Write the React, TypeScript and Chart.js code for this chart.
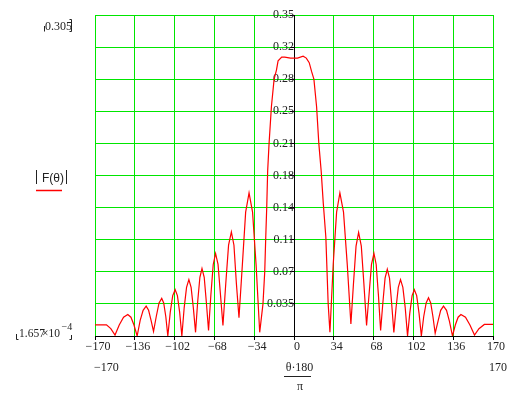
import React, { useEffect, useRef } from "react";
import { Chart, registerables } from "chart.js";

Chart.register(...registerables);

// ---- data ----
const angles = [
  -170, -160.2, -156.5, -152.9,
  -149.3, -145.6, -142, -139.3, -136.7, -134,
  -131.4, -128.9, -126.3, -124.2, -122.1, -120,
  -117.7, -115.3, -113, -111.3, -109.5, -107.8,
  -105.7, -103.6, -101.5, -99.6, -97.7, -95.8,
  -93.8, -91.8, -89.8, -87.9, -86, -84.1,
  -82.3, -80.4, -78.6, -76.7, -74.9, -73,
  -71, -69, -67, -64.9, -62.8, -60.7,
  -58.3, -55.9, -53.5, -51.3, -49.2, -47,
  -44.1, -41.3, -38.4, -35.4, -32.4, -29.3,
  -26.5, -25, -24.2, -23.3, -22.5, -21.3, -19.3, -17, -15, -13.6, -10.5, -7.9, -3, 0,
  3, 7.8, 10.5, 13, 15, 17, 19.3, 21.2, 23.2, 25, 27.2, 29.2, 30.7,
  33.5, 36.4, 39.2, 42.3, 45.5, 48.6,
  50.8, 53, 55.2, 57.5, 59.7, 62,
  64.1, 66.2, 68.3, 70.2, 72.1, 74,
  75.9, 77.8, 79.7, 81.6, 83.4, 85.3,
  87.2, 89.1, 91, 93, 95, 97,
  98.9, 100.9, 102.8, 104.8, 106.8, 108.8,
  110.8, 112.9, 114.9, 116.8, 118.7, 120.6,
  123, 125.3, 127.7, 130.3, 132.8, 135.4,
  137.8, 140.2, 142.6, 146.5, 150.3, 154.2,
  158, 162.6, 170,
];
const magnitude = [
  0.0122, 0.0122, 0.008, 0.001,
  0.012, 0.0205, 0.0235, 0.0205, 0.012, 0.0,
  0.017, 0.028, 0.0326, 0.028, 0.017, 0.005,
  0.021, 0.036, 0.041, 0.036, 0.021, 0.0,
  0.026, 0.044, 0.0505, 0.044, 0.026, 0.0,
  0.031, 0.053, 0.0615, 0.053, 0.031, 0.004,
  0.037, 0.064, 0.0735, 0.064, 0.037, 0.006,
  0.045, 0.078, 0.09, 0.078, 0.045, 0.0115,
  0.057, 0.099, 0.1135, 0.099, 0.057, 0.02,
  0.078, 0.135, 0.156, 0.135, 0.078, 0.004,
  0.035, 0.07, 0.105, 0.14, 0.18, 0.21, 0.25, 0.28, 0.29, 0.3, 0.304, 0.304, 0.303, 0.303,
  0.303, 0.305, 0.303, 0.298, 0.2885, 0.28, 0.25, 0.21, 0.18, 0.145, 0.108, 0.035, 0.004,
  0.078, 0.135, 0.156, 0.135, 0.078, 0.013,
  0.057, 0.098, 0.113, 0.098, 0.057, 0.0115,
  0.045, 0.078, 0.09, 0.078, 0.045, 0.006,
  0.036, 0.063, 0.0727, 0.063, 0.036, 0.004,
  0.031, 0.053, 0.0615, 0.053, 0.031, 0.0,
  0.025, 0.044, 0.0505, 0.044, 0.025, 0.0,
  0.021, 0.036, 0.0418, 0.036, 0.021, 0.003,
  0.016, 0.028, 0.0326, 0.028, 0.016, 0.0,
  0.012, 0.0205, 0.0235, 0.0205, 0.012, 0.001,
  0.008, 0.0126, 0.0126,
];

const xTickValues = [-170, -136, -102, -68, -34, 0, 34, 68, 102, 136, 170];
const xTickLabels = ["−170", "−136", "−102", "−68", "−34", "0", "34", "68", "102", "136", "170"];
const yTickValues = [0, 0.035, 0.07, 0.105, 0.14, 0.175, 0.21, 0.245, 0.28, 0.315, 0.35];
const yTickLabels = ["", "0.035", "0.07", "0.11", "0.14", "0.18", "0.21", "0.25", "0.28", "0.32", "0.35"];

const yUpperLimitLabel = "0.305";
const yLowerLimitParts = ["1.657", "×", "10"];
const yLowerLimitExponent = "−4";
const yAxisTitle = "F(θ)";
const xLowerLimitLabel = "−170";
const xUpperLimitLabel = "170";
const xTitleNumerator = "θ·180";
const xTitleDenominator = "π";

const GREEN = "rgb(0,230,0)";
const TEXT = "#222";
const SERIF = "'Liberation Serif', 'Times New Roman', serif";
const SANS = "'Liberation Sans', Arial, sans-serif";

const xGridColors = xTickValues.map((v) => (v === 0 ? "#000" : GREEN));
const yGridColors = yTickValues.map((v) => (v === 0 ? "#000" : GREEN));

const annotations = {
  id: "mathcadAnnotations",
  afterDraw(chart: any) {
    const ctx = chart.ctx as CanvasRenderingContext2D;
    ctx.save();
    ctx.fillStyle = TEXT;
    ctx.strokeStyle = TEXT;
    ctx.lineWidth = 1;
    ctx.textBaseline = "alphabetic";

    // upper limit
    ctx.font = `12px ${SERIF}`;
    ctx.textAlign = "left";
    ctx.fillText(yUpperLimitLabel, 45, 30);
    ctx.beginPath();
    ctx.moveTo(44.5, 26);
    ctx.lineTo(44.5, 31.5);
    ctx.moveTo(69.5, 19.5);
    ctx.lineTo(71.5, 19.5);
    ctx.lineTo(71.5, 31.5);
    ctx.lineTo(69.5, 31.5);
    ctx.stroke();

    // lower limit 1.657×10^-4
    ctx.font = `11.5px ${SERIF}`;
    ctx.fillText(yLowerLimitParts[0], 19, 337);
    ctx.fillText(yLowerLimitParts[1], 42, 337);
    ctx.fillText(yLowerLimitParts[2], 48.5, 337);
    ctx.font = `10px ${SERIF}`;
    ctx.fillText(yLowerLimitExponent, 61.5, 330);
    ctx.beginPath();
    ctx.moveTo(16.5, 334);
    ctx.lineTo(16.5, 339.5);
    ctx.lineTo(18.5, 339.5);
    ctx.moveTo(71.5, 335);
    ctx.lineTo(71.5, 339.5);
    ctx.lineTo(69.5, 339.5);
    ctx.stroke();

    // y title |F(θ)|
    ctx.font = `12px ${SANS}`;
    ctx.fillText(yAxisTitle, 42, 181.5);
    ctx.beginPath();
    ctx.moveTo(36.5, 170);
    ctx.lineTo(36.5, 184);
    ctx.moveTo(66.5, 170);
    ctx.lineTo(66.5, 184);
    ctx.stroke();
    ctx.strokeStyle = "#ff0000";
    ctx.lineWidth = 1.5;
    ctx.beginPath();
    ctx.moveTo(36, 190.5);
    ctx.lineTo(62, 190.5);
    ctx.stroke();

    // x limits and title
    ctx.strokeStyle = TEXT;
    ctx.lineWidth = 1;
    ctx.font = `12px ${SERIF}`;
    ctx.fillText(xLowerLimitLabel, 94, 371);
    ctx.fillText(xUpperLimitLabel, 489, 371);
    ctx.textAlign = "center";
    ctx.fillText(xTitleNumerator, 299.5, 371);
    ctx.beginPath();
    ctx.moveTo(284, 376.5);
    ctx.lineTo(311, 376.5);
    ctx.stroke();
    ctx.fillText(xTitleDenominator, 300, 390);
    ctx.restore();
  },
};

export default function App() {
  const ref = useRef<HTMLCanvasElement | null>(null);
  useEffect(() => {
    if (!ref.current) return;
    const points = angles.map((a, i) => ({ x: a, y: magnitude[i] }));
    const chart = new Chart(ref.current, {
      type: "line",
      data: {
        datasets: [
          {
            data: points,
            borderColor: "#ff0000",
            borderWidth: 1.2,
            pointRadius: 0,
            tension: 0,
            fill: false,
          },
        ],
      },
      options: {
        animation: false,
        responsive: false,
        layout: { padding: { left: 95, right: 26, top: 15, bottom: 39.6 } },
        plugins: { legend: { display: false }, tooltip: { enabled: false } },
        scales: {
          x: {
            type: "linear",
            position: "bottom",
            min: -170,
            max: 170,
            afterBuildTicks: (s: any) => {
              s.ticks = xTickValues.map((v) => ({ value: v }));
            },
            grid: {
              color: xGridColors,
              tickColor: "#000",
              tickLength: 4,
              lineWidth: 1,
            },
            border: { color: "#000", width: 1 },
            ticks: {
              padding: 0,
              labelOffset: 3,
              maxRotation: 0,
              autoSkip: false,
              color: TEXT,
              font: { family: SERIF, size: 12 },
              callback: (_v: any, i: number) => xTickLabels[i],
            },
          },
          y: {
            type: "linear",
            position: { x: 0 } as any,
            min: 0,
            max: 0.35,
            afterBuildTicks: (s: any) => {
              s.ticks = yTickValues.map((v) => ({ value: v }));
            },
            grid: {
              color: yGridColors,
              tickColor: "#000",
              tickLength: 4,
              lineWidth: 1,
            },
            border: { color: "#000", width: 1 },
            ticks: {
              padding: 0,
              autoSkip: false,
              color: TEXT,
              font: { family: SERIF, size: 12 },
              callback: (_v: any, i: number) => yTickLabels[i],
            },
          },
        },
      },
      plugins: [annotations],
    });
    return () => chart.destroy();
  }, []);
  return (
    <div style={{ position: "absolute", left: 0, top: 0, width: 519, height: 394, background: "#fff" }}>
      <canvas ref={ref} width={519} height={394} style={{ width: 519, height: 394 }} />
    </div>
  );
}
